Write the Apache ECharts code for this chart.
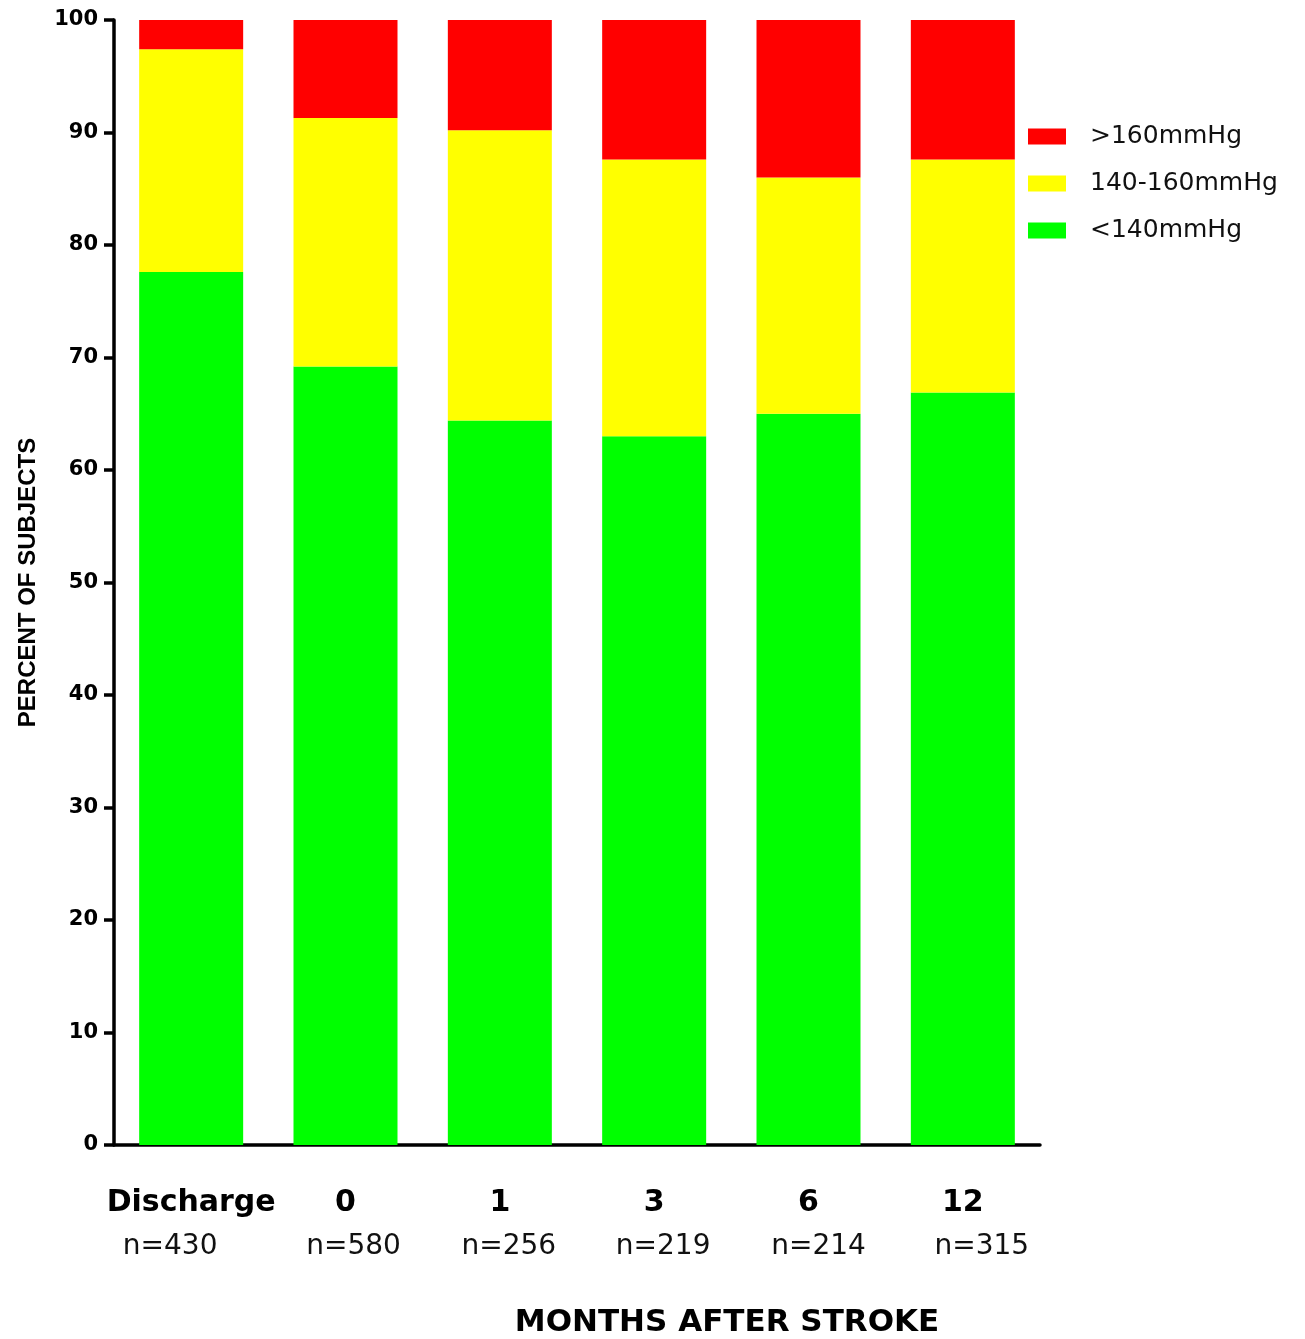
<!DOCTYPE html>
<html>
<head>
<meta charset="utf-8">
<script src="https://cdn.jsdelivr.net/npm/echarts@6/dist/echarts.min.js"></script>
<style>
html,body{margin:0;padding:0;background:#fff;}
#chart{width:1305px;height:1339px;}
</style>
</head>
<body>
<div id="chart"></div>
<script>
const categories = ['Discharge', '0', '1', '3', '6', '12'];
const nLabels = ['n=430', 'n=580', 'n=256', 'n=219', 'n=214', 'n=315'];
const seriesNames = ['<140mmHg', '140-160mmHg', '>160mmHg'];
const lt140 = [77.6, 69.2, 64.4, 63.0, 65.0, 66.9];
const mid140to160 = [19.8, 22.1, 25.8, 24.6, 21.0, 20.7];
const gt160 = [2.6, 8.7, 9.8, 12.4, 14.0, 12.4];
const yTicks = { min: 0, max: 100, interval: 10 };
const colors = ['#00ff00', '#ffff00', '#ff0000'];

// horizontal nudge (px) of the "n=" line under each category, as in the original figure
const nShift = [-21, 8, 9, 9, 10, 19];

const chart = echarts.init(document.getElementById('chart'));
const seriesData = [lt140, mid140to160, gt160];

const rich = {
  a: { fontFamily: 'DejaVu Sans', fontWeight: 'bold', fontSize: 30, color: '#000', lineHeight: 44 }
};
nShift.forEach((d, i) => {
  rich['b' + i] = {
    fontFamily: 'DejaVu Sans', fontSize: 28, color: '#111', lineHeight: 44,
    padding: d >= 0 ? [0, 0, 0, 2 * d] : [0, -2 * d, 0, 0]
  };
});

chart.setOption({
  animation: false,
  backgroundColor: '#ffffff',
  grid: { left: 114, right: 265, top: 20, bottom: 194, containLabel: false, outerBoundsMode: 'none' },
  legend: {
    data: [seriesNames[2], seriesNames[1], seriesNames[0]],
    orient: 'vertical',
    left: 1028,
    top: 124,
    padding: 0,
    itemWidth: 38,
    itemHeight: 16,
    itemGap: 22,
    icon: 'rect',
    textStyle: { fontFamily: 'DejaVu Sans', fontSize: 25, color: '#111', lineHeight: 25, padding: [0, 0, 0, 19] }
  },
  xAxis: {
    type: 'category',
    data: categories,
    axisLine: { lineStyle: { color: '#000', width: 3.5 } },
    axisTick: { alignWithLabel: true, length: 9, lineStyle: { color: '#000', width: 3.5 } },
    axisLabel: {
      margin: 36,
      interval: 0,
      formatter: function (v) {
        const i = categories.indexOf(v);
        return '{a|' + v + '}\n{b' + i + '|' + nLabels[i] + '}';
      },
      rich: rich
    }
  },
  yAxis: {
    type: 'value',
    min: yTicks.min,
    max: yTicks.max,
    interval: yTicks.interval,
    name: 'PERCENT OF SUBJECTS',
    nameLocation: 'middle',
    nameRotate: 90,
    nameGap: 74,
    nameTextStyle: { fontFamily: 'Liberation Sans', fontWeight: 'bold', fontSize: 24, color: '#000' },
    axisLine: { show: true, lineStyle: { color: '#000', width: 3.5 } },
    axisTick: { show: true, length: 10, lineStyle: { color: '#000', width: 3.5 } },
    axisLabel: { margin: 16, fontFamily: 'DejaVu Sans', fontWeight: 'bold', fontSize: 21, color: '#000' },
    splitLine: { show: false }
  },
  graphic: [{
    type: 'text',
    style: {
      x: 727, y: 1323,
      text: 'MONTHS AFTER STROKE',
      textAlign: 'center',
      textVerticalAlign: 'middle',
      fontFamily: 'DejaVu Sans',
      fontWeight: 'bold',
      fontSize: 31,
      fill: '#000'
    }
  }],
  series: seriesNames.map((name, k) => ({
    name: name,
    type: 'bar',
    stack: 'bp',
    barWidth: 104,
    itemStyle: { color: colors[k] },
    data: seriesData[k]
  }))
});
</script>
</body>
</html>
